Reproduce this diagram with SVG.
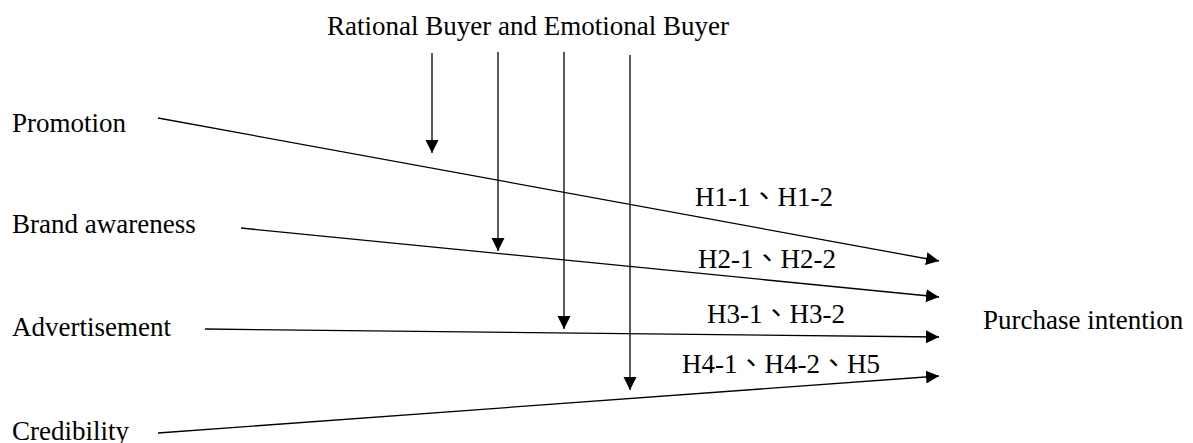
<svg xmlns="http://www.w3.org/2000/svg" width="1193" height="443" viewBox="0 0 1193 443">
<style>
text{font-family:"Liberation Serif","Noto Sans CJK TC",serif;font-size:27px;fill:#000}
.c{stroke:#000;stroke-width:1.3;fill:none;marker-end:url(#ah)}
</style>
<defs>
<marker id="ah" markerUnits="userSpaceOnUse" markerWidth="14" markerHeight="14" refX="13" refY="6.5" orient="auto">
<path d="M0,0 L13,6.5 L0,13 z" fill="#000"/>
</marker>
</defs>
<rect width="1193" height="443" fill="#fff"/>
<g id="moderator"><text x="327" y="35">Rational Buyer and Emotional Buyer</text></g>
<g id="promotion"><text x="12" y="132">Promotion</text></g>
<g id="brand"><text x="12" y="233">Brand awareness</text></g>
<g id="advertisement"><text x="12" y="336">Advertisement</text></g>
<g id="credibility"><text x="12" y="440">Credibility</text></g>
<g id="purchase"><text x="983" y="329">Purchase intention</text></g>
<g id="connectors">
<line class="c" x1="432" y1="53" x2="432" y2="153"/>
<line class="c" x1="498" y1="52" x2="498" y2="251"/>
<line class="c" x1="564" y1="52" x2="564" y2="329"/>
<line class="c" x1="630" y1="55" x2="630" y2="390"/>
<line class="c" x1="158" y1="118" x2="939" y2="261"/>
<line class="c" x1="241" y1="228" x2="939" y2="297"/>
<line class="c" x1="205" y1="329" x2="939" y2="337"/>
<line class="c" x1="158" y1="433" x2="939" y2="376"/>
</g>
<g id="labels">
<text x="695" y="206">H1-1、H1-2</text>
<text x="698" y="268">H2-1、H2-2</text>
<text x="707" y="323">H3-1、H3-2</text>
<text x="682" y="373">H4-1、H4-2、H5</text>
</g>
</svg>
